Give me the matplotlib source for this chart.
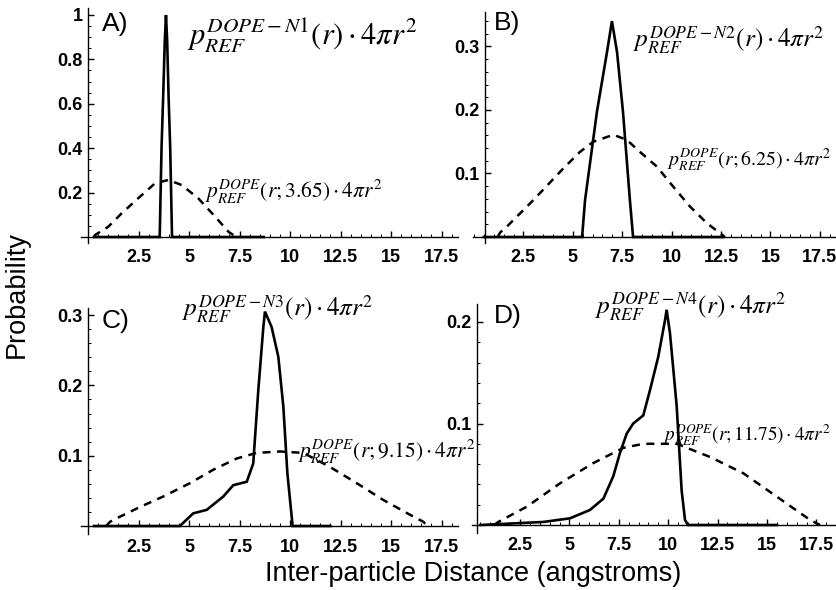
import matplotlib
matplotlib.use('Agg')
import matplotlib.pyplot as plt
from matplotlib.ticker import FixedLocator, MultipleLocator

# ---- data ----
# A) N1
a_solid_x = [0.3, 3.55, 3.64, 3.72, 3.8, 3.86, 3.92, 3.99, 4.07, 4.16, 8.7]
a_solid_y = [0, 0, 0.4, 0.63, 0.88, 1.0, 0.88, 0.63, 0.4, 0, 0]
a_dash_x = [0.3, 0.35, 1.0, 1.67, 2.49, 3.32, 3.98, 4.64, 5.46, 6.29, 6.95, 7.19, 7.4]
a_dash_y = [0, 0.009, 0.046, 0.107, 0.175, 0.242, 0.257, 0.234, 0.174, 0.092, 0.024, 0.009, 0]

# B) N2
b_solid_x = [0.5, 5.47, 5.62, 6.22, 6.73, 6.98, 7.24, 7.54, 7.89, 8.05, 12.6]
b_solid_y = [0, 0, 0.058, 0.197, 0.291, 0.340, 0.291, 0.197, 0.058, 0, 0]
b_dash_x = [1.2, 1.32, 1.65, 3.0, 4.52, 5.36, 6.04, 7.05, 7.73, 8.4, 9.25, 10.09,
            10.93, 11.78, 12.45, 12.7]
b_dash_y = [0, 0.007, 0.016, 0.058, 0.108, 0.134, 0.150, 0.161, 0.153, 0.134, 0.111,
            0.079, 0.048, 0.022, 0.006, 0]

# C) N3
c_solid_x = [0.3, 4.55, 5.21, 5.88, 6.7, 7.19, 7.86, 8.18, 8.43, 8.68, 8.76,
             9.09, 9.42, 9.67, 9.87, 10.13, 12.0]
c_solid_y = [0, 0, 0.018, 0.023, 0.042, 0.058, 0.063, 0.089, 0.193, 0.283, 0.305,
             0.283, 0.241, 0.17, 0.075, 0, 0]
c_dash_x = [0.9, 1.09, 1.42, 2.57, 3.73, 5.05, 6.2, 7.36, 8.35, 9.5, 10.66, 11.98,
            13.3, 14.62, 15.94, 16.6, 16.8]
c_dash_y = [0, 0.006, 0.011, 0.027, 0.042, 0.061, 0.080, 0.096, 0.104, 0.106, 0.104,
            0.084, 0.061, 0.037, 0.016, 0.006, 0]

# D) N4
d_solid_x = [0.5, 3.68, 5.03, 6.04, 6.72, 7.22, 7.56, 7.9, 8.23, 8.74, 9.08, 9.5,
             9.84, 9.92, 10.09, 10.43, 10.68, 10.85, 11.0, 15.5]
d_solid_y = [0, 0.003, 0.0066, 0.0148, 0.026, 0.048, 0.071, 0.09, 0.1, 0.108, 0.133,
             0.166, 0.202, 0.212, 0.189, 0.117, 0.034, 0.005, 0, 0]
d_dash_x = [1.2, 1.4, 2.84, 4.52, 6.21, 7.73, 8.74, 10.43, 12.12, 13.8, 15.49, 17.18, 17.68]
d_dash_y = [0, 0.003, 0.018, 0.041, 0.061, 0.076, 0.080, 0.080, 0.067, 0.051, 0.028, 0.005, 0]

x_ticks = [2.5, 5, 7.5, 10, 12.5, 15, 17.5]
x_labels = ['2.5', '5', '7.5', '10', '12.5', '15', '17.5']
a_yticks = [0.2, 0.4, 0.6, 0.8, 1.0]
a_ylabels = ['0.2', '0.4', '0.6', '0.8', '1']
bc_yticks = [0.1, 0.2, 0.3]
bc_ylabels = ['0.1', '0.2', '0.3']
d_yticks = [0.1, 0.2]
d_ylabels = ['0.1', '0.2']

plt.rcParams['mathtext.fontset'] = 'stix'
plt.rcParams['font.family'] = ['Liberation Sans', 'DejaVu Sans']

W, H = 836, 590
fig = plt.figure(figsize=(W / 100, H / 100), dpi=100)


def place(px0, sx, xlim, py0, sy, ylim):
    left = px0 + xlim[0] * sx
    right = px0 + xlim[1] * sx
    top = py0 - ylim[1] * sy
    bottom = py0 - ylim[0] * sy
    ax = fig.add_axes([left / W, 1 - bottom / H, (right - left) / W, (bottom - top) / H])
    ax.set_xlim(*xlim)
    ax.set_ylim(*ylim)
    ax.patch.set_alpha(0)
    return ax


def style(ax, yaxis_at, yticks, ylabels, yminor):
    ax.spines['top'].set_visible(False)
    ax.spines['right'].set_visible(False)
    ax.spines['left'].set_position(('data', yaxis_at))
    ax.spines['bottom'].set_position(('data', 0))
    for s in ('left', 'bottom'):
        ax.spines[s].set_linewidth(1.0)
    ax.xaxis.set_major_locator(FixedLocator(x_ticks))
    ax.set_xticklabels(x_labels)
    ax.xaxis.set_minor_locator(MultipleLocator(0.5))
    ax.yaxis.set_major_locator(FixedLocator(yticks))
    ax.set_yticklabels(ylabels)
    ax.yaxis.set_minor_locator(MultipleLocator(yminor))
    ax.tick_params(which='major', direction='in', length=4, width=1.0)
    ax.tick_params(which='minor', direction='in', length=2, width=0.7)
    ax.tick_params(axis='x', which='major', pad=9)
    ax.tick_params(axis='y', which='major', pad=4)
    for lab in ax.get_xticklabels() + ax.get_yticklabels():
        lab.set_fontweight('bold')
        lab.set_fontsize(13)


def curves(ax, sx_, sy_, dx_, dy_):
    ax.plot(sx_, sy_, color='black', lw=1.9, solid_joinstyle='miter', zorder=3)
    ax.plot(dx_, dy_, color='black', lw=1.8, dashes=(3.2, 2.6), zorder=3)


axA = place(88, 20.2, (-0.35, 18.3), 237, 222, (-0.027, 1.03))
style(axA, 0, a_yticks, a_ylabels, 0.05)
curves(axA, a_solid_x, a_solid_y, a_dash_x, a_dash_y)

axB = place(474, 19.76, (-0.05, 18.3), 237, 635, (-0.01, 0.355))
style(axB, 0.56, bc_yticks, bc_ylabels, 0.02)
curves(axB, b_solid_x, b_solid_y, b_dash_x, b_dash_y)

axC = place(88, 20.2, (-0.35, 18.3), 526, 703, (-0.012, 0.31))
style(axC, 0, bc_yticks, bc_ylabels, 0.02)
curves(axC, c_solid_x, c_solid_y, c_dash_x, c_dash_y)

axD = place(470.6, 19.76, (0.07, 18.5), 525, 1015, (-0.008, 0.218))
style(axD, 0.32, d_yticks, d_ylabels, 0.02)
curves(axD, d_solid_x, d_solid_y, d_dash_x, d_dash_y)

# panel letters
for txt, x, y in [('A)', 102, 24), ('B)', 494, 23), ('C)', 102, 321), ('D)', 494, 316)]:
    fig.text(x / W, 1 - y / H, txt, fontsize=19, ha='left', va='center')

# annotations
big = [(r'$p_{REF}^{DOPE-N1}(r)\cdot 4\pi r^2$', 187, 36, 22),
       (r'$p_{REF}^{DOPE-N2}(r)\cdot 4\pi r^2$', 633, 40, 18.3),
       (r'$p_{REF}^{DOPE-N3}(r)\cdot 4\pi r^2$', 182, 309, 18.3),
       (r'$p_{REF}^{DOPE-N4}(r)\cdot 4\pi r^2$', 595, 306, 18.3)]
small = [(r'$p_{REF}^{DOPE}(r;3.65)\cdot 4\pi r^2$', 205, 192, 15.5),
         (r'$p_{REF}^{DOPE}(r;6.25)\cdot 4\pi r^2$', 667, 160, 14.3),
         (r'$p_{REF}^{DOPE}(r;9.15)\cdot 4\pi r^2$', 298, 452, 15.5),
         (r'$p_{REF}^{DOPE}(r;11.75)\cdot 4\pi r^2$', 663, 435, 13.8)]
for txt, x, y, fs in big:
    fig.text(x / W, 1 - y / H, txt, fontsize=fs, ha='left', va='center')
for txt, x, y, fs in small:
    fig.text(x / W, 1 - y / H, txt, fontsize=fs, ha='left', va='center')

fig.text(473 / W, 1 - 574 / H, 'Inter-particle Distance (angstroms)',
         fontsize=19.5, ha='center', va='center')
fig.text(17 / W, 1 - 295 / H, 'Probability', fontsize=19.5,
         rotation=90, ha='center', va='center')

fig.savefig('out.png', dpi=100)
